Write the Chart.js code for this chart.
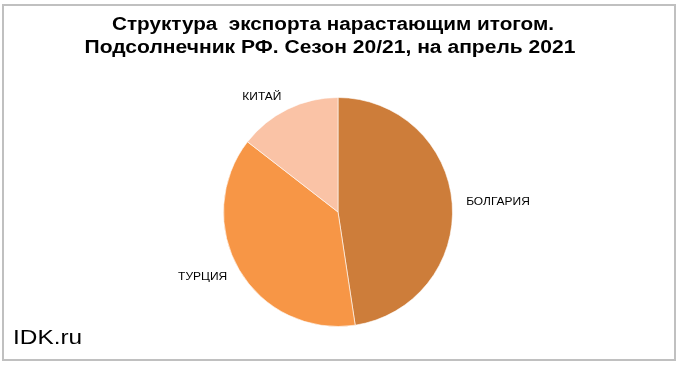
<!DOCTYPE html>
<html>
<head>
<meta charset="utf-8">
<script src="https://cdn.jsdelivr.net/npm/chart.js@4"></script>
<style>
  html, body { margin: 0; padding: 0; background: #fff; }
  #wrap { width: 680px; height: 367px; }
</style>
</head>
<body>
<div id="wrap"><canvas id="pieChart" width="680" height="367"></canvas></div>
<script>
// Export structure, sunflower, season 20/21 (shares, %)
const countries = ['БОЛГАРИЯ', 'ТУРЦИЯ', 'КИТАЙ'];
const shares = [47.6, 37.9, 14.5];
const sliceColors = ['#CD7D3A', '#F79646', '#FAC3A6'];
const titleLines = ['Структура  экспорта нарастающим итогом.', 'Подсолнечник РФ. Сезон 20/21, на апрель 2021'];

const FONT = '"Liberation Sans", Arial, sans-serif';

// the source image text is a bit wider than plain Arial, so stretch it horizontally
function stretchedText(ctx, text, x, y, sx) {
    ctx.save();
    ctx.translate(x, y);
    ctx.scale(sx, 1);
    ctx.fillText(text, 0, 0);
    ctx.restore();
}

// frame, title, watermark
const framePlugin = {
    id: 'frame',
    beforeDraw(chart) {
        const ctx = chart.ctx;
        ctx.save();
        ctx.strokeStyle = '#C0C0C0';
        ctx.lineWidth = 2;
        ctx.strokeRect(3, 5, 672, 355);
        ctx.restore();
    },
    afterDraw(chart) {
        const ctx = chart.ctx;
        ctx.save();
        ctx.fillStyle = '#000';
        ctx.textBaseline = 'alphabetic';

        // title
        ctx.font = 'bold 18px ' + FONT;
        ctx.textAlign = 'center';
        stretchedText(ctx, titleLines[0], 333, 29.5, 1.15);
        stretchedText(ctx, titleLines[1], 330, 53, 1.17);

        // watermark
        ctx.font = '19.5px ' + FONT;
        ctx.textAlign = 'left';
        stretchedText(ctx, 'IDK.ru', 13, 344, 1.25);
        ctx.restore();
    }
};

// category labels outside the slices
const outsideLabels = {
    id: 'outsideLabels',
    afterDatasetsDraw(chart) {
        const ctx = chart.ctx;
        const meta = chart.getDatasetMeta(0);
        ctx.save();
        ctx.fillStyle = '#000';
        ctx.font = '11px ' + FONT;
        ctx.textBaseline = 'middle';
        meta.data.forEach((arc, i) => {
            const mid = (arc.startAngle + arc.endAngle) / 2;
            const r = arc.outerRadius + 14;
            const x = arc.x + Math.cos(mid) * r;
            const y = arc.y + Math.sin(mid) * r;
            ctx.textAlign = Math.cos(mid) >= 0 ? 'left' : 'right';
            stretchedText(ctx, countries[i], x, y, 1.09);
        });
        ctx.restore();
    }
};

new Chart(document.getElementById('pieChart'), {
    type: 'pie',
    data: {
        labels: countries,
        datasets: [{
            data: shares,
            backgroundColor: sliceColors,
            borderColor: 'rgba(255,255,255,0.6)',
            borderWidth: 1
        }]
    },
    options: {
        responsive: false,
        animation: false,
        layout: { padding: { left: 0, right: 4, top: 97, bottom: 40 } },
        plugins: {
            legend: { display: false },
            tooltip: { enabled: false },
            title: { display: false }
        }
    },
    plugins: [framePlugin, outsideLabels]
});
</script>
</body>
</html>
